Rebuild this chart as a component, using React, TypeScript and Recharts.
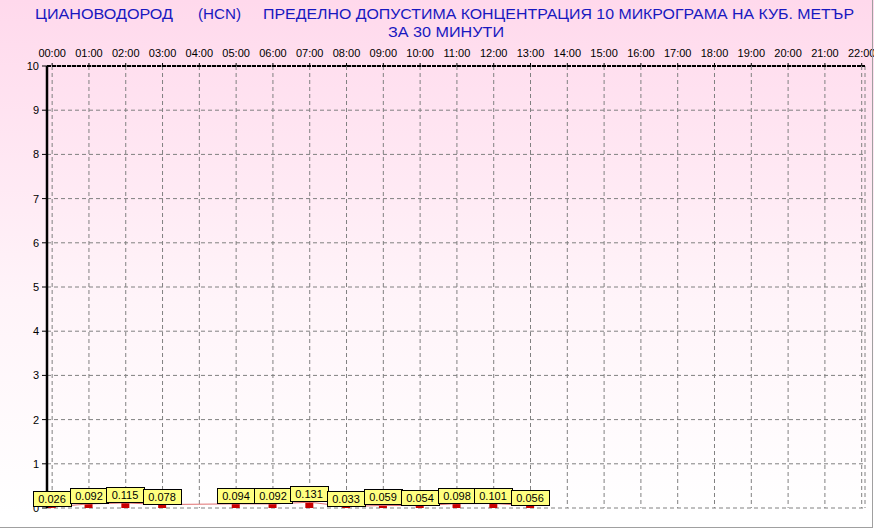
import React from 'react';
import { ComposedChart, Bar, Line, XAxis, YAxis, CartesianGrid, LabelList } from 'recharts';

const hours = ['00:00', '01:00', '02:00', '03:00', '04:00', '05:00', '06:00', '07:00', '08:00', '09:00', '10:00', '11:00', '12:00', '13:00', '14:00', '15:00', '16:00', '17:00', '18:00', '19:00', '20:00', '21:00', '22:00'];
const values: (number | null)[] = [0.026, 0.092, 0.115, 0.078, null, 0.094, 0.092, 0.131, 0.033, 0.059, 0.054, 0.098, 0.101, 0.056, null, null, null, null, null, null, null, null, null];
const yTicks = [0, 1, 2, 3, 4, 5, 6, 7, 8, 9, 10];
const xTicks = hours.map((_, i) => i);
const yMinorTicks = Array.from({ length: 51 }, (_, i) => Math.round(i * 2) / 10);

const titleMain = 'ЦИАНОВОДОРОД';
const titleFormula = '(HCN)';
const titleRest = 'ПРЕДЕЛНО ДОПУСТИМА КОНЦЕНТРАЦИЯ 10 МИКРОГРАМА  НА КУБ. МЕТЪР';
const titleLine2 = 'ЗА 30 МИНУТИ';

const data = hours.map((h, i) => ({ x: i, hour: h, v: values[i] }));

const FONT = '"Liberation Sans", Arial, sans-serif';
const TITLE_FONT = '"Liberation Sans Narrow", "Liberation Sans", Arial, sans-serif';

const BoxLabel = (p: any) => {
  const { x, y, width, value } = p;
  if (value == null) return null;
  const cx = Math.round(Number(x) + Number(width) / 2);
  const top = Math.round(Number(y));
  return (
    <g>
      <rect x={cx - 19 + 0.5} y={top - 16 + 0.5} width={38} height={15} fill="#FFFF80" stroke="#000" strokeWidth={1} />
      <text x={cx} y={top - 4} textAnchor="middle" fontSize={11} fontFamily={FONT} fill="#000">
        {Number(value).toFixed(3)}
      </text>
    </g>
  );
};

export default function App() {
  return (
    <div
      style={{
        position: 'absolute',
        left: 0,
        top: 0,
        width: 874,
        height: 529,
        background: 'linear-gradient(#FFD9EC 0px, #FFF4F9 300px, #FFFFFF 515px)',
        fontFamily: FONT,
      }}
    >
      <ComposedChart
        width={874}
        height={529}
        data={data}
        margin={{ top: 46, right: 9, bottom: 21, left: 0 }}
      >
        <CartesianGrid stroke="#808080" strokeDasharray="4 3" />
        <XAxis
          dataKey="x"
          type="number"
          orientation="top"
          domain={[-0.14, 22.09]}
          allowDataOverflow
          ticks={xTicks}
          interval={0}
          tickFormatter={(i: number) => hours[i]}
          height={20}
          tickSize={3}
          tickMargin={6}
          axisLine={{ stroke: '#000', strokeWidth: 2, strokeDasharray: '4 1' }}
          tickLine={{ stroke: '#000' }}
          tick={{ fill: '#000', fontSize: 11, fontFamily: FONT }}
        />
        <XAxis
          xAxisId="b"
          dataKey="x"
          type="number"
          orientation="bottom"
          domain={[-0.14, 22.09]}
          allowDataOverflow
          height={0}
          tick={false}
          tickLine={false}
          axisLine={{ stroke: '#000', strokeWidth: 1, strokeDasharray: '3 1' }}
        />
        <YAxis
          type="number"
          domain={[0, 10]}
          ticks={yTicks}
          interval={0}
          width={47}
          tickSize={5}
          tickMargin={3}
          axisLine={{ stroke: '#000', strokeWidth: 2.5 }}
          tickLine={{ stroke: '#000' }}
          tick={{ fill: '#000', fontSize: 11, fontFamily: FONT }}
        />
        <YAxis
          yAxisId="minor"
          type="number"
          domain={[0, 10]}
          ticks={yMinorTicks}
          interval={0}
          mirror
          width={0}
          tick={false}
          tickSize={3}
          axisLine={false}
          tickLine={{ stroke: '#000' }}
        />
        <YAxis
          yAxisId="r"
          type="number"
          orientation="right"
          domain={[0, 10]}
          width={0}
          tick={false}
          tickLine={false}
          axisLine={{ stroke: '#000', strokeWidth: 1.5 }}
        />
        <Line
          dataKey="v"
          stroke="#E07070"
          strokeWidth={1}
          dot={false}
          connectNulls
          isAnimationActive={false}
        />
        <Bar dataKey="v" fill="#C80000" barSize={8} isAnimationActive={false}>
          <LabelList dataKey="v" content={BoxLabel} />
        </Bar>
      </ComposedChart>
      <svg
        width={874}
        height={529}
        style={{ position: 'absolute', left: 0, top: 0, pointerEvents: 'none' }}
      >
        <g fill="#1818C0" fontFamily={TITLE_FONT} fontSize={15}>
          <text x={35} y={19} textLength={138} lengthAdjust="spacingAndGlyphs">{titleMain}</text>
          <text x={198} y={19} textLength={43} lengthAdjust="spacingAndGlyphs">{titleFormula}</text>
          <text x={263} y={19} textLength={591} lengthAdjust="spacingAndGlyphs">{titleRest}</text>
          <text x={388} y={37} textLength={116} lengthAdjust="spacingAndGlyphs">{titleLine2}</text>
        </g>
        <line x1={0} y1={527.5} x2={873} y2={527.5} stroke="#A0A0A0" strokeWidth={1} />
        <line x1={872.5} y1={0} x2={872.5} y2={528} stroke="#A0A0A0" strokeWidth={1} />
      </svg>
    </div>
  );
}
